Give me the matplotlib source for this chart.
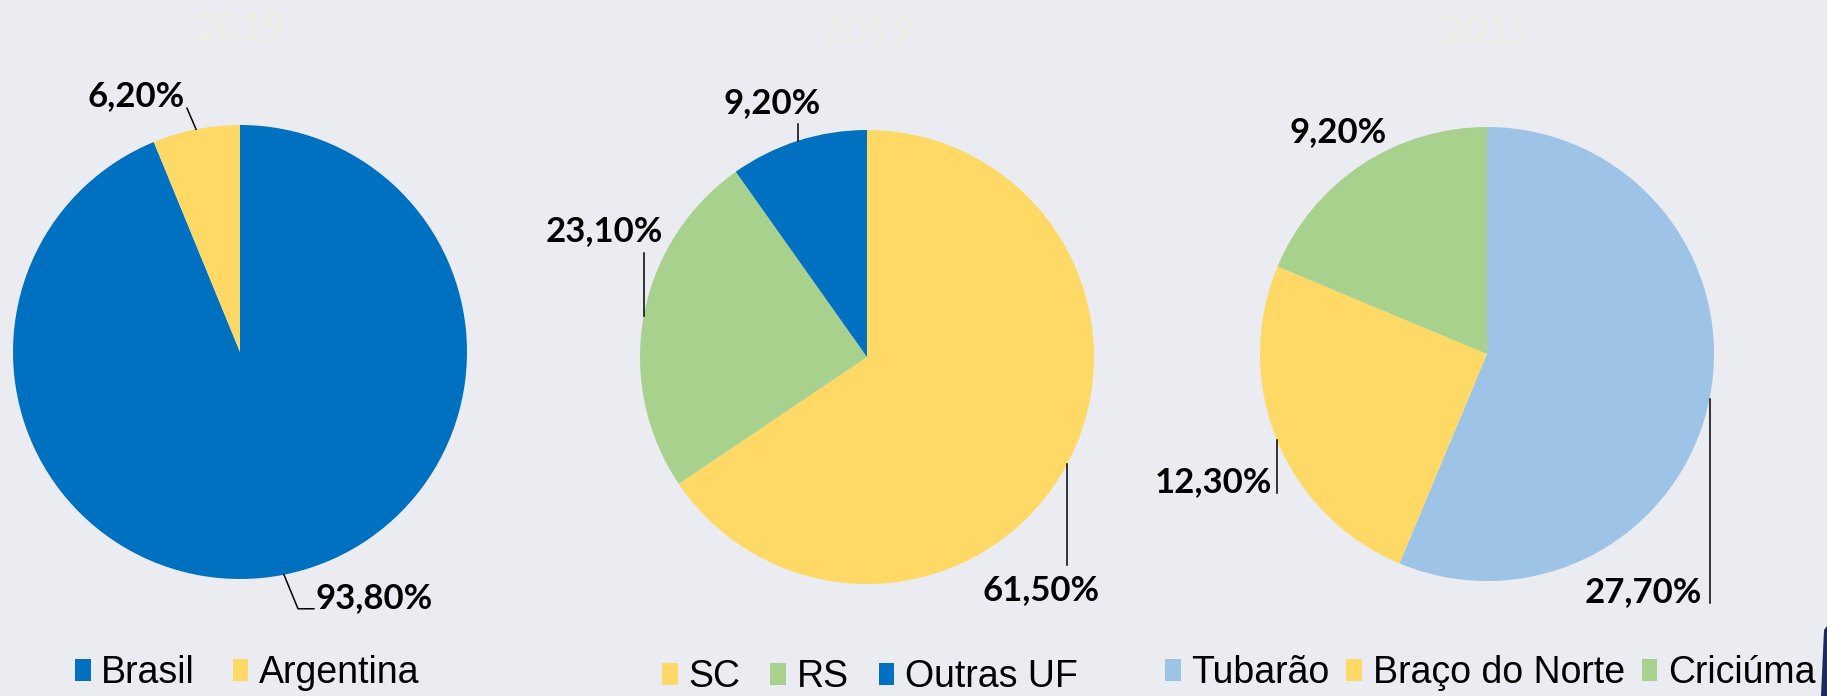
import matplotlib
matplotlib.use("Agg")
import matplotlib.pyplot as plt
from matplotlib.patches import Patch, Polygon
import numpy as np

# data
titles = ["2019", "2019", "2019"]
origem_labels = ["Brasil", "Argentina"]
origem_values = [93.8, 6.2]
uf_labels = ["SC", "RS", "Outras UF"]
uf_values = [61.5, 23.1, 9.2]
cidade_labels = ["Tubarão", "Braço do Norte", "Criciúma"]
cidade_values = [27.7, 12.3, 9.2]

BLUE = "#0070C0"
YELLOW = "#FFD966"
GREEN = "#A9D18E"
LIGHTBLUE = "#9DC3E6"
BG = "#EBECF1"

W, H = 1827, 696
fig = plt.figure(figsize=(W / 100, H / 100), dpi=100, facecolor=BG)
ax = fig.add_axes([0, 0, 1, 1])
ax.set_facecolor(BG)

R = 227
pies = [
    dict(values=origem_values, labels=origem_labels, colors=[BLUE, YELLOW],
         center=(240, H - 352), title=(240, H - 28),
         leg_anchor=(75, H - 673), colspace=1.0,
         # (line points, text pos, ha) in radius units from the wedge edge
         ann=[([(0, 0), (0.062, -0.150), (0.132, -0.150)], (0.141, -0.101), "left"),
              ([(0, 0), (-0.040, 0.093)], (-0.264, 0.145), "center")]),
    dict(values=uf_values, labels=uf_labels, colors=[YELLOW, GREEN, BLUE],
         center=(867, H - 357), title=(868, H - 33),
         leg_anchor=(662, H - 677), colspace=0.8,
         ann=[([(0, 0), (0, -0.447)], (-0.115, -0.558), "center"),
              ([(0, 0), (0, 0.279)], (-0.173, 0.376), "center"),
              ([(0, 0), (0, 0.075)], (-0.115, 0.168), "center")]),
    dict(values=cidade_values, labels=cidade_labels, colors=[LIGHTBLUE, YELLOW, GREEN],
         center=(1487, H - 354), title=(1487, H - 33),
         leg_anchor=(1165, H - 673), colspace=0.45,
         ann=[([(0, 0), (0, -0.90)], (-0.035, -0.85), "right"),
              ([(0, 0), (0, -0.234)], (-0.022, -0.185), "right"),
              (None, (-0.10, 0.145), "center")]),
]

for p, title in zip(pies, titles):
    wedges, _ = ax.pie(p["values"], colors=p["colors"], startangle=90,
                       counterclock=False, center=p["center"], radius=R,
                       wedgeprops=dict(linewidth=0))
    cx, cy = p["center"]
    for w, v, (line, tpos, ha) in zip(wedges, p["values"], p["ann"]):
        ang = np.deg2rad((w.theta1 + w.theta2) / 2)
        ex, ey = cx + R * np.cos(ang), cy + R * np.sin(ang)
        if line:
            xs = [ex + dx * R for dx, dy in line]
            ys = [ey + dy * R for dx, dy in line]
            ax.plot(xs, ys, color="black", lw=1.1)
        txt = f"{v:.2f}".replace(".", ",") + "%"
        ax.text(ex + tpos[0] * R, ey + tpos[1] * R, txt, ha=ha, va="center",
                fontsize=25, fontweight="bold", family="Lato", color="black")
    ax.text(*p["title"], title, ha="center", va="center", fontsize=29,
            fontweight="bold", family="Lato", color="#EEEEE8")
    handles = [Patch(facecolor=c, edgecolor="none") for c in p["colors"]]
    fig.legend(handles, p["labels"], loc="center left",
               bbox_to_anchor=(p["leg_anchor"][0] / W, p["leg_anchor"][1] / H),
               ncol=len(handles), frameon=False, borderpad=0, borderaxespad=0,
               handlelength=0.42, handleheight=0.52, handletextpad=0.28,
               columnspacing=p["colspace"],
               prop=dict(family="Liberation Sans", size=27))

ax.set_xlim(0, W)
ax.set_ylim(0, H)
ax.set_aspect("equal")
ax.axis("off")

# dark slide decoration peeking in at the bottom right corner
fig.patches.append(Polygon([(1821 / W, 0), (1.0, 0), (1.0, 70 / H), (1824 / W, 66 / H)],
                           closed=True, transform=fig.transFigure,
                           facecolor="#1F2A5C", edgecolor="none"))

fig.savefig("out.png", dpi=100, facecolor=BG)
